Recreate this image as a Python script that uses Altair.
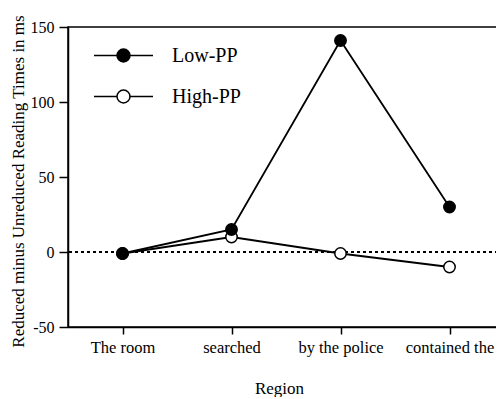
import altair as alt
import pandas as pd

regions = ["The room", "searched", "by the police", "contained the"]
series_names = ["Low-PP", "High-PP"]
low_pp = [-1, 15, 141, 30]
high_pp = [-1, 10, -1, -10]
y_ticks = [-50, 0, 50, 100, 150]

rows = []
for r, v in zip(regions, low_pp):
    rows.append({"region": r, "series": "Low-PP", "value": v})
for r, v in zip(regions, high_pp):
    rows.append({"region": r, "series": "High-PP", "value": v})
df = pd.DataFrame(rows)

FONT = "Liberation Serif"

x_enc = alt.X(
    "region:N",
    sort=regions,
    scale=alt.Scale(type="point", padding=0.5),
    axis=alt.Axis(
        title="Region",
        labelAngle=0,
        tickSize=7,
        labelPadding=5,
        titleX=211,
        titleY=66,
        titleBaseline="alphabetic",
    ),
)
y_enc = alt.Y(
    "value:Q",
    scale=alt.Scale(domain=[-50, 150], nice=False, zero=False),
    axis=alt.Axis(
        title="Reduced minus Unreduced Reading Times in ms",
        values=y_ticks,
        labelExpr="toString(datum.value)",
        tickSize=9,
        labelPadding=5,
        titleX=-45,
        titleY=154,
        titleBaseline="alphabetic",
    ),
)

zero_rule = alt.Chart(df).mark_rule(
    strokeDash=[3, 3], strokeWidth=1.5, color="black"
).encode(y=alt.datum(0))

lines = alt.Chart(df).mark_line(color="black", strokeWidth=1.8).encode(
    x=x_enc, y=y_enc, detail="series:N"
)

legend_path = (
    "M-1,0L-0.22,0M0.22,0L1,0"
    "M-0.22,0A0.22,0.22,0,1,1,0.22,0A0.22,0.22,0,1,1,-0.22,0Z"
)

points = alt.Chart(df).mark_point(
    shape="circle", filled=True, stroke="black", strokeWidth=1.5, size=130, opacity=1
).encode(
    x=x_enc,
    y=y_enc,
    fill=alt.Fill(
        "series:N",
        sort=series_names,
        scale=alt.Scale(domain=series_names, range=["black", "white"]),
        legend=alt.Legend(
            title=None,
            orient="none",
            legendX=25,
            legendY=-2,
            symbolType=legend_path,
            symbolSize=3481,
            symbolStrokeColor="black",
            symbolStrokeWidth=1.5,
            symbolOpacity=1,
            labelFont=FONT,
            labelFontSize=20,
            labelColor="black",
            labelOffset=18,
            rowPadding=-19,
            padding=0,
        ),
    ),
    order=alt.Order("series:N", sort="ascending"),
)

chart = (
    alt.layer(zero_rule, lines, points)
    .properties(
        width=436,
        height=300,
        autosize=alt.AutoSizeParams(type="none"),
        padding={"left": 60, "top": 19, "right": -8, "bottom": 70},
    )
    .configure(font=FONT)
    .configure_view(stroke="black", strokeWidth=1.5)
    .configure_axis(
        grid=False,
        domainColor="black",
        domainWidth=1.5,
        tickColor="black",
        tickWidth=1.5,
        labelFont=FONT,
        labelFontSize=16,
        labelColor="black",
        titleFont=FONT,
        titleFontSize=17,
        titleFontWeight="normal",
        titleColor="black",
    )
    .configure_axisX(labelFontSize=16.5)
)

chart.save("out.html", embed_options={"renderer": "svg", "actions": False})
